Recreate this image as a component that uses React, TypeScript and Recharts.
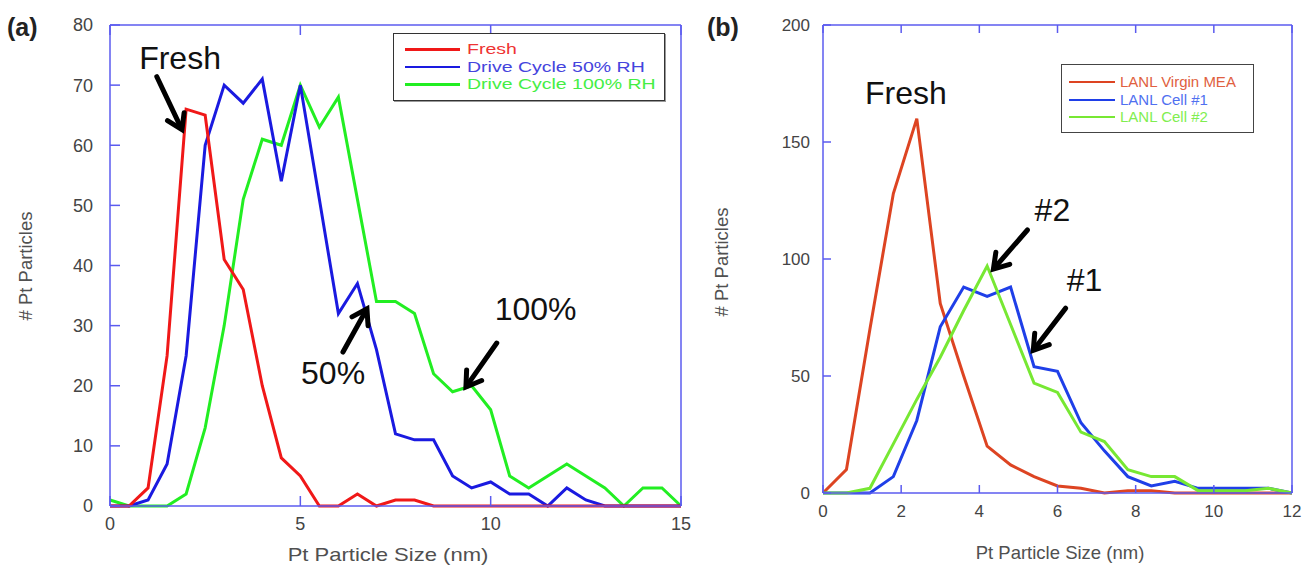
import React from 'react';
import { LineChart, Line, XAxis, YAxis, ReferenceLine, ReferenceDot } from 'recharts';

// ---------- Panel (a) data ----------
const sizeA = [0, 0.5, 1, 1.5, 2, 2.5, 3, 3.5, 4, 4.5, 5, 5.5, 6, 6.5, 7, 7.5, 8, 8.5, 9, 9.5, 10, 10.5, 11, 11.5, 12, 12.5, 13, 13.5, 14, 14.5, 15];
const freshA = [0, 0, 3, 25, 66, 65, 41, 36, 20, 8, 5, 0, 0, 2, 0, 1, 1, 0, 0, 0, 0, 0, 0, 0, 0, 0, 0, 0, 0, 0, 0];
const dc50A = [0, 0, 1, 7, 25, 60, 70, 67, 71, 54, 70, 51, 32, 37, 26, 12, 11, 11, 5, 3, 4, 2, 2, 0, 3, 1, 0, 0, 0, 0, 0];
const dc100A = [1, 0, 0, 0, 2, 13, 30, 51, 61, 60, 70, 63, 68, 51, 34, 34, 32, 22, 19, 20, 16, 5, 3, 5, 7, 5, 3, 0, 3, 3, 0];
const ticksXA = [0, 5, 10, 15];
const ticksYA = [0, 10, 20, 30, 40, 50, 60, 70, 80];
const legendA = ['Fresh', 'Drive Cycle 50% RH', 'Drive Cycle 100% RH'];

// ---------- Panel (b) data ----------
const sizeB = [0, 0.6, 1.2, 1.8, 2.4, 3.0, 3.6, 4.2, 4.8, 5.4, 6.0, 6.6, 7.2, 7.8, 8.4, 9.0, 9.6, 10.2, 10.8, 11.4, 12.0];
const virginB = [0, 10, 70, 128, 160, 81, 50, 20, 12, 7, 3, 2, 0, 1, 1, 0, 0, 0, 0, 0, 0];
const cell1B = [0, 0, 0, 7, 31, 71, 88, 84, 88, 54, 52, 30, 18, 7, 3, 5, 2, 2, 2, 2, 0];
const cell2B = [0, 0, 2, 21, 40, 58, 78, 97, 72, 47, 43, 26, 22, 10, 7, 7, 1, 1, 1, 2, 0];
const ticksXB = [0, 2, 4, 6, 8, 10, 12];
const ticksYB = [0, 50, 100, 150, 200];
const legendB = ['LANL Virgin MEA', 'LANL Cell #1', 'LANL Cell #2'];

// annotations in data coordinates
const textsA = [
  { x: 1.84, y: 74.5, t: 'Fresh' },
  { x: 5.86, y: 22.2, t: '50%' },
  { x: 11.18, y: 32.7, t: '100%' },
];
const arrowsA = [
  { x1: 1.23, y1: 71.4, x2: 1.89, y2: 62.6 },
  { x1: 6.12, y1: 25.6, x2: 6.75, y2: 32.8 },
  { x1: 10.16, y1: 27.1, x2: 9.35, y2: 19.8 },
];
const textsB = [
  { x: 2.12, y: 171, t: 'Fresh' },
  { x: 5.87, y: 121, t: '#2' },
  { x: 6.69, y: 91, t: '#1' },
];
const arrowsB = [
  { x1: 5.23, y1: 112.4, x2: 4.36, y2: 95.7 },
  { x1: 6.21, y1: 79, x2: 5.38, y2: 61 },
];

const dataA = sizeA.map((x, i) => ({ x, fresh: freshA[i], dc50: dc50A[i], dc100: dc100A[i] }));
const dataB = sizeB.map((x, i) => ({ x, virgin: virginB[i], cell1: cell1B[i], cell2: cell2B[i] }));

const AXIS = '#5b5bef';
const FONT = '"Liberation Sans", Arial, Helvetica, sans-serif';
const blank = () => '';

const Arrow = (p: any) => {
  const { x1, y1, x2, y2 } = p;
  const ang = Math.atan2(y2 - y1, x2 - x1);
  const L = 17;
  const a = Math.PI / 5.5;
  const h1x = x2 - L * Math.cos(ang - a);
  const h1y = y2 - L * Math.sin(ang - a);
  const h2x = x2 - L * Math.cos(ang + a);
  const h2y = y2 - L * Math.sin(ang + a);
  return (
    <g>
      <line x1={x1} y1={y1} x2={x2 - 2 * Math.cos(ang)} y2={y2 - 2 * Math.sin(ang)} stroke="#000" strokeWidth={5} strokeLinecap="round" />
      <polyline points={`${h1x},${h1y} ${x2},${y2} ${h2x},${h2y}`} fill="none" stroke="#000" strokeWidth={5} strokeLinejoin="miter" strokeLinecap="round" />
    </g>
  );
};

const makeText = (t: string, size: number) => (p: any) => (
  <text x={p.cx} y={p.cy} textAnchor="middle" dominantBaseline="central" fontSize={size} fontFamily={FONT} fill="#111">
    {t}
  </text>
);

const abs = (extra: React.CSSProperties): React.CSSProperties => ({ position: 'absolute', fontFamily: FONT, whiteSpace: 'nowrap', ...extra });

export default function App() {
  return (
    <div style={{ position: 'absolute', left: 0, top: 0, width: 1302, height: 566, background: '#fff', overflow: 'hidden' }}>
      {/* Panel (a) */}
      <div style={{ position: 'absolute', left: 0, top: 0 }}>
        <LineChart width={700} height={566} data={dataA} margin={{ top: 24, right: 18, bottom: 0, left: 0 }}>
          <XAxis dataKey="x" type="number" domain={[0, 15]} ticks={ticksXA} height={60} stroke={AXIS} strokeWidth={1.5}
            tickSize={-10} tickMargin={21} tick={{ fill: '#444', fontSize: 18, fontFamily: FONT }} />
          <XAxis xAxisId="top" orientation="top" dataKey="x" type="number" domain={[0, 15]} ticks={ticksXA} height={1}
            stroke={AXIS} strokeWidth={1.5} tickSize={-10} tickFormatter={blank} />
          <YAxis type="number" domain={[0, 80]} ticks={ticksYA} width={110} stroke={AXIS} strokeWidth={1.5}
            tickSize={-10} tickMargin={27} tick={{ fill: '#444', fontSize: 18, fontFamily: FONT }} />
          <YAxis yAxisId="right" orientation="right" type="number" domain={[0, 80]} ticks={ticksYA} width={1}
            stroke={AXIS} strokeWidth={1.5} tickSize={-10} tickFormatter={blank} />
          <Line dataKey="dc100" stroke="#22ee22" strokeWidth={3} dot={false} isAnimationActive={false} type="linear" />
          <Line dataKey="dc50" stroke="#1a1ae0" strokeWidth={3} dot={false} isAnimationActive={false} type="linear" />
          <Line dataKey="fresh" stroke="#f01818" strokeWidth={3} dot={false} isAnimationActive={false} type="linear" />
          {arrowsA.map((a, i) => (
            <ReferenceLine key={'aa' + i} segment={[{ x: a.x1, y: a.y1 }, { x: a.x2, y: a.y2 }]} shape={Arrow} />
          ))}
          {textsA.map((t, i) => (
            <ReferenceDot key={'ta' + i} x={t.x} y={t.y} r={0} shape={makeText(t.t, 32)} />
          ))}
        </LineChart>
      </div>

      {/* Panel (b) */}
      <div style={{ position: 'absolute', left: 700, top: 0 }}>
        <LineChart width={602} height={566} data={dataB} margin={{ top: 24, right: 9, bottom: 0, left: 0 }}>
          <XAxis dataKey="x" type="number" domain={[0, 12]} ticks={ticksXB} height={73} stroke={AXIS} strokeWidth={1.5}
            tickSize={-8} tickMargin={20} tick={{ fill: '#444', fontSize: 17, fontFamily: FONT }} />
          <XAxis xAxisId="top" orientation="top" dataKey="x" type="number" domain={[0, 12]} ticks={ticksXB} height={1}
            stroke={AXIS} strokeWidth={1.5} tickSize={-8} tickFormatter={blank} />
          <YAxis type="number" domain={[0, 200]} ticks={ticksYB} width={123} stroke={AXIS} strokeWidth={1.5}
            tickSize={-8} tickMargin={21} tick={{ fill: '#444', fontSize: 17, fontFamily: FONT }} />
          <YAxis yAxisId="right" orientation="right" type="number" domain={[0, 200]} ticks={ticksYB} width={1}
            stroke={AXIS} strokeWidth={1.5} tickSize={-8} tickFormatter={blank} />
          <Line dataKey="virgin" stroke="#dd4422" strokeWidth={3} dot={false} isAnimationActive={false} type="linear" />
          <Line dataKey="cell1" stroke="#1f3fe8" strokeWidth={3} dot={false} isAnimationActive={false} type="linear" />
          <Line dataKey="cell2" stroke="#77e833" strokeWidth={3} dot={false} isAnimationActive={false} type="linear" />
          {arrowsB.map((a, i) => (
            <ReferenceLine key={'ab' + i} segment={[{ x: a.x1, y: a.y1 }, { x: a.x2, y: a.y2 }]} shape={Arrow} />
          ))}
          {textsB.map((t, i) => (
            <ReferenceDot key={'tb' + i} x={t.x} y={t.y} r={0} shape={makeText(t.t, 32)} />
          ))}
        </LineChart>
      </div>

      {/* Panel letters */}
      <div style={abs({ left: 7, top: 12, fontSize: 25, fontWeight: 'bold', color: '#222', lineHeight: '30px' })}>(a)</div>
      <div style={abs({ left: 707, top: 12, fontSize: 25, fontWeight: 'bold', color: '#222', lineHeight: '30px' })}>(b)</div>

      {/* Axis titles */}
      <div style={abs({ left: 388, top: 555, fontSize: 18.5, color: '#505050', transform: 'translate(-50%,-50%) scaleX(1.19)' })}>Pt Particle Size (nm)</div>
      <div style={abs({ left: 26, top: 266, fontSize: 18.5, color: '#505050', transform: 'translate(-50%,-50%) rotate(-90deg)' })}># Pt Particles</div>
      <div style={abs({ left: 1060, top: 553, fontSize: 18.5, color: '#505050', transform: 'translate(-50%,-50%)' })}>Pt Particle Size (nm)</div>
      <div style={abs({ left: 722, top: 262, fontSize: 18.5, color: '#505050', transform: 'translate(-50%,-50%) rotate(-90deg)' })}># Pt Particles</div>

      {/* Legend (a) */}
      <div style={abs({ left: 393, top: 33, width: 270, height: 66, border: '1.5px solid #333', boxShadow: '1px 1px 0 #999', background: '#fff' })}>
        {legendA.map((t, i) => (
          <div key={t} style={{ position: 'absolute', left: 0, top: 6 + i * 17.5, height: 17, width: 270 }}>
            <div style={{ position: 'absolute', left: 11, top: 8, width: 55, height: 2.5, background: ['#f01818', '#1a1ae0', '#22ee22'][i] }} />
            <div style={{ position: 'absolute', left: 73, top: 0, fontSize: 15, lineHeight: '17px', color: ['#ee3333', '#4444dd', '#44ee44'][i], transform: 'scaleX(1.3)', transformOrigin: 'left center' }}>{t}</div>
          </div>
        ))}
      </div>

      {/* Legend (b) */}
      <div style={abs({ left: 1061, top: 64, width: 191, height: 67, border: '1.5px solid #444', background: '#fff' })}>
        {legendB.map((t, i) => (
          <div key={t} style={{ position: 'absolute', left: 0, top: 8 + i * 17.5, height: 17, width: 191 }}>
            <div style={{ position: 'absolute', left: 7, top: 8, width: 46, height: 2.2, background: ['#dd4422', '#1f3fe8', '#77e833'][i] }} />
            <div style={{ position: 'absolute', left: 58, top: 0, fontSize: 15, lineHeight: '17px', color: ['#e06040', '#5070f0', '#80ee50'][i] }}>{t}</div>
          </div>
        ))}
      </div>
    </div>
  );
}
